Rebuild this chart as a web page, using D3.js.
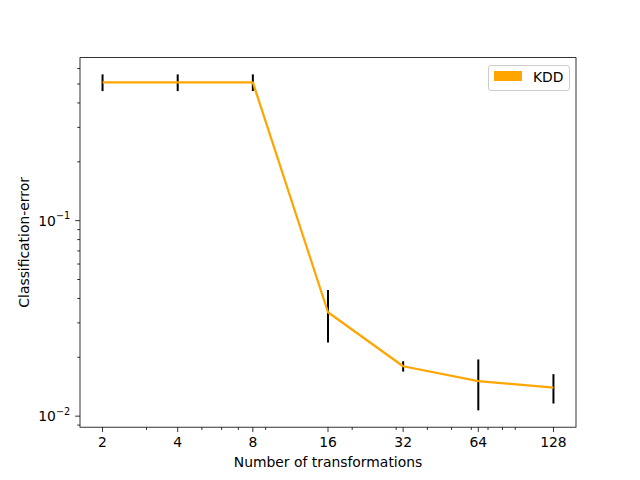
<!DOCTYPE html>
<html><head><meta charset="utf-8">
<script src="https://cdn.jsdelivr.net/npm/d3@7"></script>
<style>body{margin:0;background:#fff}svg{display:block}text{font-family:"DejaVu Sans",sans-serif;fill:#000}</style>
</head><body>
<script>
const transformations = [2, 4, 8, 16, 32, 64, 128];
const errorKDD = [0.51, 0.51, 0.51, 0.034, 0.018, 0.0151, 0.0140];
const errBarKDD = [0.05, 0.05, 0.05, 0.0102, 0.0011, 0.0044, 0.0024];
const xTickLabels = ["2", "4", "8", "16", "32", "64", "128"];
const yMajorTicks = [0.01, 0.1];
const yTickExponents = ["\u22122", "\u22121"];
const seriesName = "KDD";

const W = 640, H = 480;
const m = {l: 80, r: 576, t: 57.6, b: 427.2};
const svg = d3.select("body").append("svg").attr("width", W).attr("height", H);

// domains with matplotlib-like 5% margin in log space
const lx0 = Math.log2(d3.min(transformations)), lx1 = Math.log2(d3.max(transformations));
const dx = (lx1 - lx0) * 0.05;
const x = d3.scaleLog().base(2).domain([Math.pow(2, lx0 - dx), Math.pow(2, lx1 + dx)]).range([m.l, m.r]);
const lo = d3.min(errorKDD.map((v, i) => v - errBarKDD[i]));
const hi = d3.max(errorKDD.map((v, i) => v + errBarKDD[i]));
const ly0 = Math.log10(lo), ly1 = Math.log10(hi), dy = (ly1 - ly0) * 0.05;
const y = d3.scaleLog().domain([Math.pow(10, ly0 - dy), Math.pow(10, ly1 + dy)]).range([m.b, m.t]);

const fs = 13.9;
const majorLen = 4.86, minorLen = 2.78;

// x minor ticks (log10 style)
const xMinor = [];
for (const dec of [1, 10, 100]) for (let s = 2; s <= 9; s++) {
  const v = s * dec;
  if (v >= x.domain()[0] && v <= x.domain()[1] && !transformations.includes(v)) xMinor.push(v);
}
const yMinor = [];
for (const dec of [0.001, 0.01, 0.1]) for (let s = 2; s <= 9; s++) {
  const v = s * dec;
  if (v >= y.domain()[0] && v <= y.domain()[1]) yMinor.push(v);
}

const g = svg.append("g");
// x ticks
g.selectAll(".xm").data(xMinor).join("line")
  .attr("x1", d => x(d)).attr("x2", d => x(d)).attr("y1", m.b).attr("y2", m.b + minorLen)
  .attr("stroke", "#000").attr("stroke-width", 0.8);
g.selectAll(".xM").data(transformations).join("line")
  .attr("x1", d => x(d)).attr("x2", d => x(d)).attr("y1", m.b).attr("y2", m.b + majorLen)
  .attr("stroke", "#000").attr("stroke-width", 0.8);
g.selectAll(".xl").data(transformations).join("text")
  .attr("x", d => x(d)).attr("y", m.b + majorLen + 4.86 + fs * 0.76)
  .attr("text-anchor", "middle").attr("font-size", fs)
  .text((d, i) => xTickLabels[i]);
// y ticks
g.selectAll(".ym").data(yMinor).join("line")
  .attr("x1", m.l - minorLen).attr("x2", m.l).attr("y1", d => y(d)).attr("y2", d => y(d))
  .attr("stroke", "#000").attr("stroke-width", 0.8);
g.selectAll(".yM").data(yMajorTicks).join("line")
  .attr("x1", m.l - majorLen).attr("x2", m.l).attr("y1", d => y(d)).attr("y2", d => y(d))
  .attr("stroke", "#000").attr("stroke-width", 0.8);
const yl = g.selectAll(".yl").data(yMajorTicks).join("text")
  .attr("x", m.l - majorLen - 4.86).attr("y", d => y(d) + fs * 0.36)
  .attr("text-anchor", "end").attr("font-size", fs);
yl.append("tspan").text("10");
yl.append("tspan").attr("font-size", fs * 0.7).attr("dy", -fs * 0.45).text((d, i) => yTickExponents[i]);

// error bars
svg.selectAll(".eb").data(transformations).join("line")
  .attr("x1", d => x(d)).attr("x2", d => x(d))
  .attr("y1", (d, i) => y(errorKDD[i] - errBarKDD[i]))
  .attr("y2", (d, i) => y(errorKDD[i] + errBarKDD[i]))
  .attr("stroke", "#000").attr("stroke-width", 2);
// line
const line = d3.line().x((d, i) => x(transformations[i])).y(d => y(d));
svg.append("path").datum(errorKDD).attr("d", line)
  .attr("fill", "none").attr("stroke", "#FFA500").attr("stroke-width", 2.2)
  .attr("stroke-linejoin", "round");

// frame
svg.append("rect").attr("x", m.l).attr("y", m.t).attr("width", m.r - m.l).attr("height", m.b - m.t)
  .attr("fill", "none").attr("stroke", "#000").attr("stroke-width", 0.8);

// axis labels
svg.append("text").attr("x", (m.l + m.r) / 2).attr("y", 467).attr("text-anchor", "middle")
  .attr("font-size", fs).text("Number of transformations");
svg.append("text").attr("transform", `translate(${28.5},${(m.t + m.b) / 2}) rotate(-90)`)
  .attr("text-anchor", "middle").attr("font-size", fs).text("Classification-error");

// legend
const lg = svg.append("g");
lg.append("rect").attr("x", 488.5).attr("y", 65.5).attr("width", 81).attr("height", 25).attr("rx", 2.5)
  .attr("fill", "#fff").attr("fill-opacity", 0.8).attr("stroke", "#ccc").attr("stroke-width", 1);
lg.append("rect").attr("x", 494).attr("y", 71).attr("width", 28).attr("height", 10).attr("fill", "#FFA500");
lg.append("text").attr("x", 533).attr("y", 81.5).attr("font-size", fs).text(seriesName);
</script>
</body></html>
